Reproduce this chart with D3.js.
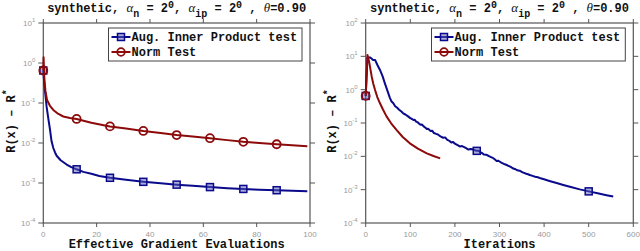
<!DOCTYPE html>
<meta charset="utf-8">
<head>
  <script src="https://d3js.org/d3.v7.min.js"></script>
  <style>
    body { margin: 0; background: #fff; }
    text { font-family: "Liberation Mono", "DejaVu Sans Mono", monospace; }
    .tick-lbl { fill: #9a9a9a; font-size: 8px; font-family: "Liberation Sans", sans-serif; }
  </style>
</head>
<body>
<div id="display"></div>
<script>

// ---- data ----
var leftX      = [0, 0.1, 0.4, 0.8, 1.4, 2.5, 3.75, 5.5, 7.5, 10, 12.5, 18, 25, 31, 37.5, 44, 50, 56, 62.5, 69, 75, 81, 87.5, 99];
var leftNorm   = [0.65, 1.4, 0.4, 0.2, 0.119, 0.085, 0.067, 0.054, 0.046, 0.042, 0.04, 0.032, 0.026, 0.023, 0.02, 0.0178, 0.0158, 0.0145, 0.0132, 0.0118, 0.0107, 0.01, 0.0093, 0.0083];
var leftAugX   = [0, 0.3, 0.6, 1.25, 1.9, 2.5, 3.1, 3.75, 4.4, 5, 6.5, 8.75, 10.5, 12.5, 15, 18, 21, 25, 31, 37.5, 44, 50, 56, 62.5, 69, 75, 81, 87.5, 99];
var leftAug    = [0.65, 0.35, 0.21, 0.08, 0.04, 0.022, 0.011, 0.0075, 0.0058, 0.0048, 0.0037, 0.0029, 0.0025, 0.0022, 0.0019, 0.0017, 0.0015, 0.00135, 0.0012, 0.00107, 0.00099, 0.00091, 0.00085, 0.00079, 0.00074, 0.00071, 0.00068, 0.00066, 0.00062];
var leftMarks  = [0, 12.5, 25, 37.5, 50, 62.5, 75, 87.5];

var rightNormX = [0, 4, 8, 13.5, 17, 21, 26, 32, 39, 47, 57, 69, 83, 99, 117, 137, 152, 167];
var rightNorm  = [0.65, 11, 6.5, 2.45, 1.5, 0.98, 0.6, 0.39, 0.25, 0.155, 0.098, 0.062, 0.038, 0.0245, 0.017, 0.0123, 0.0102, 0.0087];
var rightAugX  = [0, 4, 9.6, 13, 16, 21, 26, 32, 38, 43, 50, 54, 58, 62, 66, 70, 75, 80, 84, 89, 95, 100, 104, 107, 110, 113, 117, 120, 123, 126, 130, 134, 137, 140, 145, 149, 153, 158, 162, 165, 170, 174, 178, 183, 188, 192, 196, 200, 205, 211, 216, 222, 226, 230, 235, 240, 245, 249, 253, 256, 261, 265, 270, 275, 280, 286, 290, 293, 297, 300, 305, 310, 315, 320, 325, 331, 336, 340, 345, 350, 355, 360, 364, 368, 374, 380, 386, 392, 398, 405, 412, 420, 430, 443, 460, 480, 500, 520, 540, 555];
var rightAug   = [0.65, 9.3, 9.3, 8.6, 7.8, 7.8, 5.6, 3.9, 2.5, 1.55, 0.83, 0.58, 0.44, 0.39, 0.32, 0.29, 0.25, 0.22, 0.195, 0.18, 0.158, 0.14, 0.132, 0.123, 0.125, 0.11, 0.104, 0.095, 0.088, 0.09, 0.079, 0.072, 0.066, 0.067, 0.058, 0.059, 0.05, 0.047, 0.045, 0.042, 0.038, 0.036, 0.037, 0.031, 0.029, 0.026, 0.027, 0.024, 0.022, 0.0198, 0.0203, 0.0185, 0.0172, 0.016, 0.0165, 0.0162, 0.0152, 0.0146, 0.0148, 0.0136, 0.0125, 0.0113, 0.0112, 0.0104, 0.0096, 0.0088, 0.008, 0.0073, 0.0074, 0.007, 0.0064, 0.0059, 0.0056, 0.0052, 0.0048, 0.0043, 0.0041, 0.0038, 0.0037, 0.0034, 0.0032, 0.003, 0.0029, 0.00275, 0.0026, 0.00245, 0.00235, 0.00219, 0.00208, 0.00195, 0.00183, 0.0017, 0.00155, 0.00138, 0.0012, 0.00102, 0.00089, 0.00078, 0.00068, 0.00062];
var rightMarks = [0, 250, 500];

var legendNames = ["Aug. Inner Product test", "Norm Test"];
var blue = "#0a0a8c", red = "#8c0a0a";

var svg = d3.select("#display").append("svg")
  .attr("width", 640).attr("height", 251);

function zip(xs, ys) { return xs.map(function(v, i) { return [v, ys[i]]; }); }

// nearest data point to a marker position
function nearest(pts, m) {
  return pts.reduce(function(a, b) { return Math.abs(b[0] - m) < Math.abs(a[0] - m) ? b : a; });
}

function panel(o) {
  var x = d3.scaleLinear().domain(o.xdom).range([o.x0, o.x1]);
  var y = d3.scaleLog().domain(o.ydom).range([223, 23]);
  var g = svg.append("g");
  var ax = "#555";

  // frame + ticks (outward, all four sides)
  g.append("rect").attr("x", o.x0).attr("y", 23).attr("width", o.x1 - o.x0).attr("height", 200)
    .attr("fill", "none").attr("stroke", ax).attr("stroke-width", 1.2);
  var xt = d3.range(o.xdom[0], o.xdom[1] + 1, o.xstep);
  var yt = d3.range(Math.log10(o.ydom[0]), Math.log10(o.ydom[1]) + 1);
  xt.forEach(function(t) {
    g.append("line").attr("x1", x(t)).attr("x2", x(t)).attr("y1", 223).attr("y2", 227).attr("stroke", ax);
    g.append("line").attr("x1", x(t)).attr("x2", x(t)).attr("y1", 23).attr("y2", 19).attr("stroke", ax);
    g.append("text").attr("class", "tick-lbl").attr("x", x(t)).attr("y", 237)
      .attr("text-anchor", "middle").text(t);
  });
  yt.forEach(function(e) {
    var yy = y(Math.pow(10, e));
    g.append("line").attr("x1", o.x0).attr("x2", o.x0 - 5).attr("y1", yy).attr("y2", yy).attr("stroke", ax);
    g.append("line").attr("x1", o.x1).attr("x2", o.x1 + 5).attr("y1", yy).attr("y2", yy).attr("stroke", ax);
    var t = g.append("text").attr("class", "tick-lbl").attr("x", o.x0 - 8).attr("y", yy + 3)
      .attr("text-anchor", "end");
    t.append("tspan").text("10");
    t.append("tspan").attr("dy", -4).attr("font-size", "6px").text(e);
  });

  var line = d3.line().x(function(d) { return x(d[0]); }).y(function(d) { return y(d[1]); });
  var series = [
    { pts: zip(o.augX, o.aug), c: blue, m: "square" },
    { pts: zip(o.normX, o.norm), c: red, m: "circle" }
  ];
  series.forEach(function(s) {
    g.append("path").datum(s.pts).attr("d", line)
      .attr("fill", "none").attr("stroke", s.c).attr("stroke-width", 2).attr("stroke-linejoin", "round");
    var last = s.pts[s.pts.length - 1][0];
    o.marks.filter(function(m) { return m <= last; }).forEach(function(m) {
      var p = nearest(s.pts, m);
      if (s.m === "square") {
        g.append("rect").attr("x", x(p[0]) - 3.5).attr("y", y(p[1]) - 3.5).attr("width", 7).attr("height", 7)
          .attr("fill", "#5a5ab4").attr("fill-opacity", 0.5).attr("stroke", s.c).attr("stroke-width", 1.5);
      } else {
        g.append("circle").attr("cx", x(p[0])).attr("cy", y(p[1])).attr("r", 4)
          .attr("fill", "none").attr("stroke", s.c).attr("stroke-width", 1.8);
      }
    });
  });

  // legend
  var lx = o.legX, lw = o.x1 - 8 - lx;
  g.append("rect").attr("x", lx).attr("y", 28).attr("width", lw).attr("height", 33)
    .attr("fill", "#fff").attr("stroke", "#444").attr("stroke-width", 1);
  legendNames.forEach(function(nm, i) {
    var yy = 37 + i * 15, s = series[i];
    g.append("line").attr("x1", lx + 3).attr("x2", lx + 22).attr("y1", yy).attr("y2", yy)
      .attr("stroke", s.c).attr("stroke-width", 2);
    if (s.m === "square") {
      g.append("rect").attr("x", lx + 9).attr("y", yy - 3.5).attr("width", 7).attr("height", 7)
        .attr("fill", "#5a5ab4").attr("fill-opacity", 0.5).attr("stroke", s.c).attr("stroke-width", 1.5);
    } else {
      g.append("circle").attr("cx", lx + 12.5).attr("cy", yy).attr("r", 3.8)
        .attr("fill", "none").attr("stroke", s.c).attr("stroke-width", 1.8);
    }
    g.append("text").attr("x", lx + 23).attr("y", yy + 4).attr("font-size", "12px")
      .attr("font-weight", "bold").attr("fill", "#111").text(nm);
  });

  // title
  var cx = (o.x0 + o.x1) / 2;
  var tt = g.append("text").attr("x", cx).attr("y", 12).attr("text-anchor", "middle")
    .attr("font-size", "12px").attr("font-weight", "bold").attr("fill", "#111");
  function greek(ch) {
    tt.append("tspan").attr("font-family", "Liberation Serif, serif").attr("font-style", "italic")
      .attr("font-weight", "normal").attr("font-size", "13px").text(ch);
  }
  tt.append("tspan").text("synthetic, ");
  greek("α");
  tt.append("tspan").attr("dy", 5).attr("font-size", "10px").text("n");
  tt.append("tspan").attr("dy", -5).text(" = 2");
  tt.append("tspan").attr("dy", -4).attr("font-size", "10px").text("0");
  tt.append("tspan").attr("dy", 4).text(", ");
  greek("α");
  tt.append("tspan").attr("dy", 5).attr("font-size", "10px").text("ip");
  tt.append("tspan").attr("dy", -5).text(" = 2");
  tt.append("tspan").attr("dy", -4).attr("font-size", "10px").text("0");
  tt.append("tspan").attr("dy", 4).text(" , ");
  greek("θ");
  tt.append("tspan").text("=0.90");

  // axis labels
  g.append("text").attr("x", cx).attr("y", 248).attr("text-anchor", "middle")
    .attr("font-size", "12px").attr("font-weight", "bold").attr("fill", "#111").text(o.xlabel);
  var yl = g.append("text").attr("transform", "translate(" + o.ylabX + ",121) rotate(-90)")
    .attr("text-anchor", "middle").attr("font-size", "12px").attr("font-weight", "bold").attr("fill", "#111");
  yl.append("tspan").text("R(x) \u2013 R");
  yl.append("tspan").attr("dy", -5).attr("font-size", "10px").text("*");
}

panel({ x0: 43.3, x1: 310, xdom: [0, 100], xstep: 20, ydom: [1e-4, 1e1],
        normX: leftX, norm: leftNorm, augX: leftAugX, aug: leftAug, marks: leftMarks,
        legX: 108.5, xlabel: "Effective Gradient Evaluations", ylabX: 15 });
panel({ x0: 365.7, x1: 633.3, xdom: [0, 600], xstep: 100, ydom: [1e-4, 1e2],
        normX: rightNormX, norm: rightNorm, augX: rightAugX, aug: rightAug, marks: rightMarks,
        legX: 431.5, xlabel: "Iterations", ylabX: 336 });

</script>
</body>
